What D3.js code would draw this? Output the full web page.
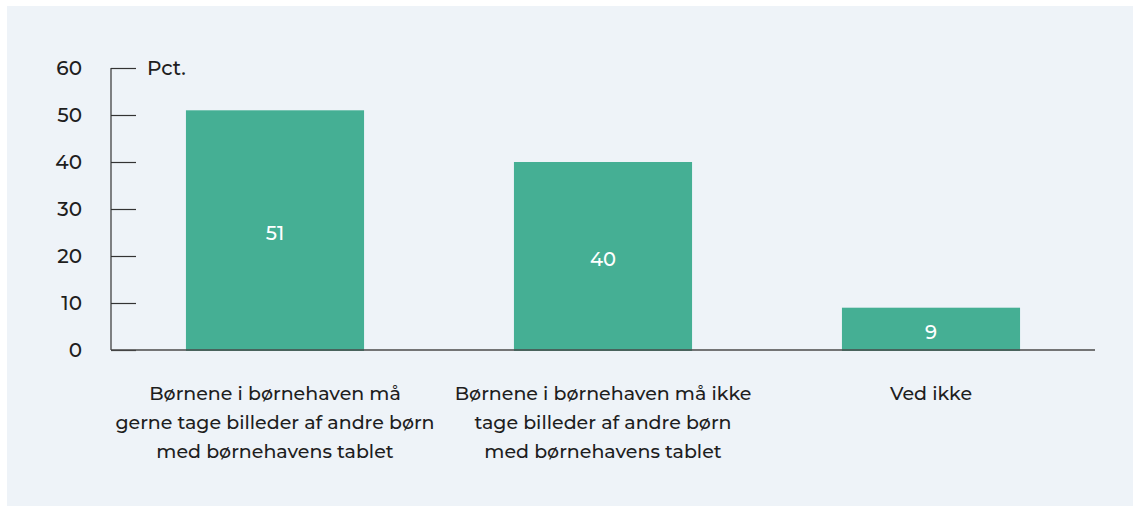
<!DOCTYPE html>
<html>
<head>
<meta charset="utf-8">
<script src="https://cdn.jsdelivr.net/npm/d3@7"></script>
<style>
  body { margin: 0; background: #ffffff; }
  svg { display: block; font-family: "Montserrat", "Noto Sans", "Open Sans", sans-serif; font-weight: 500; }
</style>
</head>
<body>
<svg id="chart"></svg>
<script>
const categories = [
    ['Børnene i børnehaven må', 'gerne tage billeder af andre børn', 'med børnehavens tablet'],
    ['Børnene i børnehaven må ikke', 'tage billeder af andre børn', 'med børnehavens tablet'],
    ['Ved ikke']
];
const values = [51, 40, 9];
const yTicks = [0, 10, 20, 30, 40, 50, 60];
const unitLabel = 'Pct.';

const width = 1134;
const height = 506;
const margin = { left: 111, right: 39, top: 68, bottom: 156 };

const svg = d3.select('#chart')
    .attr('width', width)
    .attr('height', height);

// background panel
svg.append('rect')
    .attr('x', 7)
    .attr('y', 6)
    .attr('width', width - 8)
    .attr('height', height - 6)
    .attr('fill', '#eef3f8');

const x = d3.scaleBand()
    .domain(d3.range(values.length))
    .range([margin.left, width - margin.right])
    .paddingInner(0.457)
    .paddingOuter(0.2285);

const y = d3.scaleLinear()
    .domain([0, 60])
    .range([height - margin.bottom, margin.top]);

// y axis
const yAxis = svg.append('g')
    .attr('transform', `translate(${margin.left},0)`)
    .call(d3.axisRight(y).tickValues(yTicks).tickSize(25).tickFormat(''));
yAxis.select('.domain').remove();
yAxis.selectAll('.tick line').attr('stroke', '#333').attr('stroke-width', 1.2);

svg.append('line')
    .attr('x1', margin.left).attr('x2', margin.left)
    .attr('y1', y(60)).attr('y2', y(0))
    .attr('stroke', '#333').attr('stroke-width', 1.2);

svg.selectAll('text.ytick')
    .data(yTicks)
    .join('text')
    .attr('class', 'ytick')
    .attr('x', 82)
    .attr('y', d => y(d))
    .attr('dy', '0.35em')
    .attr('text-anchor', 'end')
    .attr('font-size', 20)
    .attr('fill', '#1e1e1e')
    .text(d => d);

svg.append('text')
    .attr('x', 147)
    .attr('y', y(60))
    .attr('dy', '0.35em')
    .attr('font-size', 20)
    .attr('fill', '#1e1e1e')
    .text(unitLabel);

// bars
svg.selectAll('rect.bar')
    .data(values)
    .join('rect')
    .attr('class', 'bar')
    .attr('x', (d, i) => x(i))
    .attr('y', d => y(d))
    .attr('width', x.bandwidth())
    .attr('height', d => y(0) - y(d) + 1)
    .attr('fill', '#45af94');

// baseline
svg.append('line')
    .attr('x1', margin.left).attr('x2', width - margin.right)
    .attr('y1', y(0)).attr('y2', y(0))
    .attr('stroke', '#4a4a4a').attr('stroke-width', 1.5);

// value labels
svg.selectAll('text.value')
    .data(values)
    .join('text')
    .attr('class', 'value')
    .attr('x', (d, i) => x(i) + x.bandwidth() / 2)
    .attr('y', d => (y(d) + y(0)) / 2 + 3)
    .attr('dy', '0.35em')
    .attr('text-anchor', 'middle')
    .attr('font-size', 19.5)
    .attr('fill', '#ffffff')
    .text(d => d);

// category labels
const catGroups = svg.selectAll('text.cat')
    .data(categories)
    .join('text')
    .attr('class', 'cat')
    .attr('text-anchor', 'middle')
    .attr('font-size', 19)
    .attr('fill', '#1e1e1e');

catGroups.selectAll('tspan')
    .data((d, i) => d.map(line => ({ line, i })))
    .join('tspan')
    .attr('x', d => x(d.i) + x.bandwidth() / 2)
    .attr('y', (d, j) => 393.5 + j * 29)
    .attr('dy', '0.35em')
    .text(d => d.line);
</script>
</body>
</html>
